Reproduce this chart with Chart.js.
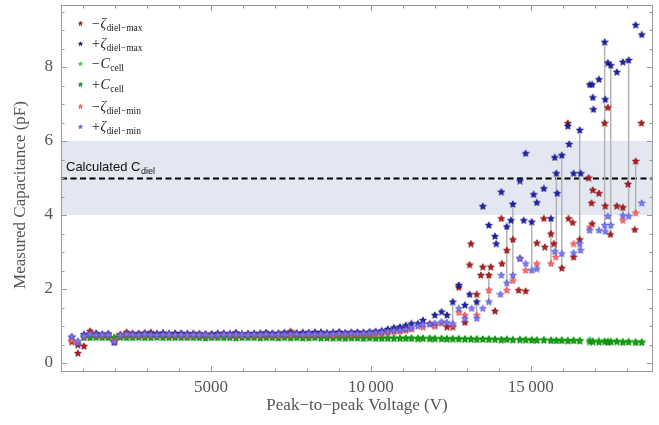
<!DOCTYPE html>
<html>
<head>
<meta charset="utf-8">
<script src="https://cdn.jsdelivr.net/npm/chart.js@4.4.1/dist/chart.umd.min.js"></script>
<style>
  html, body { margin: 0; padding: 0; background: #fff; }
  #wrap { width: 659px; height: 425px; position: relative; }
</style>
</head>
<body>
<div id="wrap"><canvas id="chart"></canvas></div>
<script>
// flat part of the sweep: one shared voltage list (V)
const lowVoltage = [
  650, 840, 1030, 1220, 1410, 1600, 1790, 1980, 2170, 2360,
  2550, 2740, 2930, 3120, 3310, 3500, 3690, 3880, 4070, 4260,
  4450, 4640, 4830, 5020, 5210, 5400, 5590, 5780, 5970, 6160,
  6350, 6540, 6730, 6920, 7110, 7300, 7490, 7680, 7870, 8060,
  8250, 8440, 8630, 8820, 9010, 9200, 9390, 9580, 9770, 9960,
  10150, 10340, 10530, 10720, 10910, 11090
];

// capacitance (pF) on the flat part, one list per series
const negMaxLow = [
  0.58, 0.27, 0.46, 0.87, 0.80, 0.77, 0.76, 0.60, 0.78, 0.84,
  0.79, 0.80, 0.78, 0.83, 0.79, 0.80, 0.78, 0.81, 0.79, 0.78,
  0.80, 0.77, 0.79, 0.78, 0.76, 0.80, 0.77, 0.82, 0.78, 0.79,
  0.77, 0.80, 0.82, 0.78, 0.80, 0.79, 0.86, 0.81, 0.80, 0.82,
  0.79, 0.83, 0.80, 0.81, 0.84, 0.80, 0.82, 0.81, 0.82, 0.80,
  0.83, 0.84, 0.86, 0.88, 0.92, 0.95
];
const posMaxLow = [
  0.70, 0.50, 0.78, 0.80, 0.80, 0.78, 0.80, 0.56, 0.74, 0.78,
  0.80, 0.79, 0.82, 0.80, 0.80, 0.82, 0.80, 0.79, 0.81, 0.80,
  0.79, 0.80, 0.78, 0.79, 0.81, 0.80, 0.80, 0.82, 0.79, 0.80,
  0.81, 0.80, 0.82, 0.81, 0.80, 0.83, 0.82, 0.81, 0.83, 0.82,
  0.84, 0.83, 0.82, 0.83, 0.84, 0.82, 0.83, 0.84, 0.83, 0.85,
  0.86, 0.88, 0.92, 0.96, 0.98, 1.02
];
const negCellLow = [
  null, null, 0.70, 0.70, 0.71, 0.70, 0.70, 0.70, 0.71, 0.70,
  0.70, 0.71, 0.70, 0.70, 0.71, 0.70, 0.70, 0.70, 0.71, 0.70,
  0.70, 0.70, 0.69, 0.70, 0.70, 0.70, 0.70, 0.69, 0.70, 0.70,
  0.70, 0.69, 0.70, 0.70, 0.69, 0.70, 0.69, 0.70, 0.69, 0.69,
  0.70, 0.69, 0.69, 0.69, 0.69, 0.68, 0.69, 0.69, 0.68, 0.69,
  0.68, 0.68, 0.68, 0.68, 0.68, 0.68
];
const posCellLow = [
  null, null, 0.69, 0.69, 0.70, 0.69, 0.69, 0.69, 0.70, 0.69,
  0.69, 0.70, 0.69, 0.69, 0.70, 0.69, 0.69, 0.69, 0.69, 0.69,
  0.69, 0.69, 0.68, 0.69, 0.69, 0.69, 0.69, 0.68, 0.69, 0.69,
  0.69, 0.68, 0.69, 0.69, 0.68, 0.69, 0.68, 0.69, 0.68, 0.68,
  0.69, 0.68, 0.68, 0.68, 0.68, 0.67, 0.68, 0.68, 0.67, 0.68,
  0.67, 0.67, 0.67, 0.67, 0.67, 0.67
];
const negMinLow = [
  0.62, 0.55, 0.72, 0.80, 0.76, 0.75, 0.76, 0.62, 0.74, 0.78,
  0.76, 0.75, 0.77, 0.76, 0.75, 0.77, 0.76, 0.75, 0.76, 0.74,
  0.76, 0.75, 0.76, 0.74, 0.75, 0.78, 0.75, 0.76, 0.75, 0.77,
  0.76, 0.75, 0.77, 0.76, 0.75, 0.77, 0.76, 0.78, 0.76, 0.77,
  0.76, 0.78, 0.77, 0.76, 0.78, 0.77, 0.78, 0.77, 0.79, 0.78,
  0.79, 0.80, 0.82, 0.85, 0.86, 0.88
];
const posMinLow = [
  0.72, 0.60, 0.74, 0.78, 0.77, 0.78, 0.77, 0.58, 0.76, 0.79,
  0.78, 0.77, 0.79, 0.78, 0.77, 0.78, 0.79, 0.77, 0.78, 0.77,
  0.78, 0.77, 0.78, 0.76, 0.77, 0.78, 0.77, 0.79, 0.78, 0.77,
  0.79, 0.78, 0.79, 0.78, 0.79, 0.78, 0.80, 0.79, 0.78, 0.80,
  0.79, 0.80, 0.79, 0.80, 0.81, 0.80, 0.81, 0.80, 0.81, 0.82,
  0.83, 0.84, 0.86, 0.88, 0.90, 0.92
];

// rising part: each series has its own voltages (V) and values (pF)
const negMaxHighV = [11840, 12000, 12380, 12560, 12750, 12940, 13090, 13130, 13310, 13440,
  13500, 13690, 13750, 13880, 14080, 14100, 14250, 14440, 14620, 14660, 14840, 15190, 15410,
  15440, 15630, 15720, 15970, 16160, 16180, 16310, 16340, 16530, 16810, 16900, 16920, 16940,
  17130, 17310, 17330, 17410, 17490, 17690, 17880, 18040, 18250, 18280, 18460];
const negMaxHigh = [1.07, 1.03, 0.98, 0.98, 2.05, 1.10, 2.66, 3.23, 1.86, 2.38,
  2.60, 2.38, 2.60, 1.41, 3.91, 2.69, 3.05, 3.34, 1.97, 2.83, 1.95, 3.25, 3.91,
  3.14, 3.50, 3.23, 2.57, 6.49, 3.91, 3.80, 2.87, 3.34, 5.01, 4.33, 3.77, 4.68,
  4.59, 6.49, 4.25, 6.91, 3.48, 4.25, 4.21, 4.84, 3.61, 5.46, 6.49];

const posMaxHighV = [11270, 11470, 11630, 12000, 12210, 12380, 12560, 12750, 12940, 13090,
  13310, 13500, 13690, 13880, 13920, 14080, 14250, 14380, 14440, 14660, 14780, 14840, 15030,
  15090, 15190, 15410, 15630, 15750, 15800, 15830, 15970, 16160, 16200, 16340, 16530, 16560,
  16840, 16920, 16940, 16960, 17130, 17310, 17330, 17410, 17500, 17690, 17880, 18060, 18280, 18470];
const posMaxHigh = [1.07, 1.07, 1.16, 1.30, 1.39, 1.30, 1.66, 2.11, 1.57, 1.86,
  1.66, 4.24, 3.73, 3.43, 3.23, 4.63, 3.69, 3.86, 4.30, 4.93, 3.86, 5.67, 3.82,
  4.56, 4.34, 4.72, 3.91, 5.56, 5.13, 4.59, 5.62, 6.41, 5.92, 5.13, 6.30, 5.13,
  7.53, 7.53, 7.18, 6.86, 7.67, 8.68, 7.13, 8.12, 8.05, 7.87, 8.14, 8.19, 9.14, 8.88];

const cellHighV = [11270, 11470, 11630, 11840, 12000, 12210, 12380, 12560, 12750, 12940,
  13130, 13310, 13500, 13690, 13880, 14080, 14250, 14440, 14660, 14840, 15030, 15190, 15410,
  15630, 15800, 15970, 16160, 16340, 16530, 16840, 16940, 17130, 17310, 17410, 17500, 17690,
  17880, 18060, 18280, 18470];
const negCellHigh = [0.68, 0.68, 0.67, 0.68, 0.67, 0.67, 0.67, 0.66, 0.67, 0.66,
  0.66, 0.66, 0.65, 0.66, 0.65, 0.65, 0.65, 0.64, 0.65, 0.64, 0.64, 0.63, 0.64,
  0.63, 0.62, 0.63, 0.62, 0.62, 0.62, 0.63, 0.60, 0.61, 0.60, 0.59, 0.60, 0.60,
  0.59, 0.59, 0.58, 0.58];
const posCellHigh = [0.67, 0.66, 0.67, 0.66, 0.66, 0.66, 0.65, 0.66, 0.65, 0.65,
  0.65, 0.64, 0.65, 0.64, 0.64, 0.63, 0.64, 0.63, 0.63, 0.63, 0.62, 0.62, 0.62,
  0.61, 0.61, 0.61, 0.60, 0.61, 0.60, 0.58, 0.58, 0.57, 0.58, 0.57, 0.57, 0.58,
  0.56, 0.57, 0.56, 0.56];

const negMinHighV = [11270, 11630, 12000, 12210, 12560, 12750, 12940, 13310, 13690, 14250,
  14440, 14840, 15190, 15630, 15780, 16340, 16840, 17880, 18280];
const negMinHigh = [0.92, 0.97, 1.00, 1.08, 1.02, 1.37, 1.30, 1.30, 1.97, 1.97,
  2.23, 2.51, 2.69, 2.69, 2.87, 3.23, 3.67, 3.86, 4.06];

const posMinHighV = [11270, 11470, 11630, 11840, 12000, 12210, 12380, 12560, 12750, 12940,
  13150, 13310, 13500, 13690, 14050, 14080, 14250, 14440, 14660, 14840, 15030, 15190, 15750,
  15970, 16340, 16530, 16560, 16840, 17130, 17310, 17330, 17410, 17500, 17880, 18060, 18470];
const posMinHigh = [0.95, 1.00, 1.05, 1.05, 1.08, 1.12, 1.10, 1.07, 1.48, 1.20,
  1.48, 1.21, 1.48, 1.66, 1.86, 2.38, 2.17, 2.38, 2.83, 2.69, 2.51, 2.55, 3.02,
  2.96, 2.98, 3.23, 3.05, 3.59, 3.59, 3.73, 3.56, 3.97, 3.73, 3.99, 3.97, 4.33];

// grey connectors: voltage, upper value, lower value
const linkV = [12560, 13310, 13690, 14250, 14440, 15030, 15630, 15800, 15970, 16530, 17310, 17500, 17880, 18060, 18280];
const linkTop = [1.66, 1.66, 2.38, 3.69, 4.30, 3.82, 3.91, 5.13, 5.62, 6.30, 8.68, 8.05, 4.21, 8.19, 5.46];
const linkBottom = [1.07, 1.21, 1.66, 1.97, 2.23, 2.51, 2.69, 2.87, 2.57, 3.05, 3.56, 3.48, 3.99, 3.97, 4.06];

const cDiel = 5;
const cDielBand = [4, 6];
const xTickValues = [5000, 10000, 15000];
const yTickValues = [0, 2, 4, 6, 8];

function points(lowY, highV, highY) {
  const pts = [];
  lowVoltage.forEach((v, i) => {
    if (lowY[i] != null) pts.push({ x: v, y: lowY[i] });
  });
  highV.forEach((v, i) => pts.push({ x: v, y: highY[i] }));
  return pts;
}

function starImage(fill, stroke, size) {
  const c = document.createElement('canvas');
  c.width = c.height = size;
  const g = c.getContext('2d');
  const r = size / 2 - 0.4, ri = r * 0.45, cx = size / 2, cy = size / 2 + 0.4;
  g.beginPath();
  for (let i = 0; i < 10; i++) {
    const a = -Math.PI / 2 + i * Math.PI / 5;
    const rr = i % 2 ? ri : r;
    g.lineTo(cx + rr * Math.cos(a), cy + rr * Math.sin(a));
  }
  g.closePath();
  g.fillStyle = fill;
  g.fill();
  g.strokeStyle = stroke;
  g.lineWidth = 0.7;
  g.stroke();
  return c;
}

const series = [
  { key: 'negMax', fill: '#b81c1c', stroke: '#7a0a0a', data: points(negMaxLow, negMaxHighV, negMaxHigh) },
  { key: 'posMax', fill: '#1e22b0', stroke: '#0a0c70', data: points(posMaxLow, posMaxHighV, posMaxHigh) },
  { key: 'negCell', fill: '#3cf03c', stroke: '#22c022', data: points(negCellLow, cellHighV, negCellHigh) },
  { key: 'posCell', fill: '#16a516', stroke: '#0b730b', data: points(posCellLow, cellHighV, posCellHigh) },
  { key: 'negMin', fill: '#ff6a6a', stroke: '#d84848', data: points(negMinLow, negMinHighV, negMinHigh) },
  { key: 'posMin', fill: '#7c7cf8', stroke: '#4f4fd0', data: points(posMinLow, posMinHighV, posMinHigh) }
];

// legend rows: sign, symbol, subscript
const legendRows = [
  ['\u2212', '\u03b6', 'diel\u2212max'],
  ['+', '\u03b6', 'diel\u2212max'],
  ['\u2212', 'C', 'cell'],
  ['+', 'C', 'cell'],
  ['\u2212', '\u03b6', 'diel\u2212min'],
  ['+', '\u03b6', 'diel\u2212min']
];

const linkData = [];
linkV.forEach((v, i) => {
  linkData.push({ x: v, y: linkTop[i] }, { x: v, y: linkBottom[i] }, { x: v, y: null });
});

const SERIF = '"Liberation Serif", "DejaVu Serif", serif';
const SANS = '"Liberation Sans", Arial, sans-serif';

// band, dashed reference line and its label (behind the stars)
const backdrop = {
  id: 'backdrop',
  beforeDatasetsDraw(chart) {
    const { ctx, chartArea: a, scales: { y } } = chart;
    ctx.save();
    const yTop = y.getPixelForValue(cDielBand[1]);
    const yBot = y.getPixelForValue(cDielBand[0]);
    ctx.fillStyle = '#e3e7f1';
    ctx.fillRect(a.left, yTop, a.right - a.left, yBot - yTop);
    const yc = Math.round(y.getPixelForValue(cDiel)) + 0.5;
    ctx.strokeStyle = '#000';
    ctx.lineWidth = 1.8;
    ctx.setLineDash([6, 3.5]);
    ctx.beginPath();
    ctx.moveTo(a.left, yc);
    ctx.lineTo(a.right, yc);
    ctx.stroke();
    ctx.setLineDash([]);
    ctx.fillStyle = '#111';
    ctx.textBaseline = 'alphabetic';
    ctx.font = '13px ' + SANS;
    const label = 'Calculated C';
    ctx.fillText(label, a.left + 5, yc - 8);
    const w = ctx.measureText(label).width;
    ctx.font = '9px ' + SANS;
    ctx.fillText('diel', a.left + 5 + w + 0.5, yc - 4.5);
    ctx.restore();
  }
};

// Mathematica style frame with inward ticks, axis titles and legend
const frame = {
  id: 'frame',
  afterDraw(chart) {
    const { ctx, chartArea: a, scales: { x, y } } = chart;
    ctx.save();
    ctx.strokeStyle = '#9a9a9a';
    ctx.lineWidth = 1;
    ctx.strokeRect(a.left + 0.5, a.top + 0.5, a.right - a.left - 1, a.bottom - a.top - 1);
    ctx.beginPath();
    for (let v = 1000; v < x.max; v += 1000) {
      const px = Math.round(x.getPixelForValue(v)) + 0.5;
      const len = v % 5000 === 0 ? 6 : 3.5;
      ctx.moveTo(px, a.bottom); ctx.lineTo(px, a.bottom - len);
      ctx.moveTo(px, a.top); ctx.lineTo(px, a.top + len);
    }
    for (let k = 0; k * 0.5 < y.max; k++) {
      const v = k * 0.5;
      const py = Math.round(y.getPixelForValue(v)) + 0.5;
      const len = k % 4 === 0 ? 6 : 3.5;
      ctx.moveTo(a.left, py); ctx.lineTo(a.left + len, py);
      ctx.moveTo(a.right, py); ctx.lineTo(a.right - len, py);
    }
    ctx.stroke();

    // axis titles
    ctx.fillStyle = '#555';
    ctx.font = '17px ' + SERIF;
    ctx.textAlign = 'center';
    ctx.textBaseline = 'middle';
    ctx.fillText('Peak\u2212to\u2212peak Voltage (V)', (a.left + a.right) / 2, 406);
    ctx.save();
    ctx.translate(21, 195);
    ctx.rotate(-Math.PI / 2);
    ctx.fillText('Measured Capacitance (pF)', 0, 0);
    ctx.restore();

    // legend
    const rowsY = [23, 43.5, 63.5, 84, 106, 126.5];
    ctx.textAlign = 'left';
    ctx.textBaseline = 'alphabetic';
    legendRows.forEach((row, i) => {
      const s = series[i];
      ctx.drawImage(s.img4, 80.5 - 2.5, rowsY[i] - 2.5);
      let tx = 92;
      const base = rowsY[i] + 4.5;
      ctx.fillStyle = '#222';
      ctx.font = '14px ' + SERIF;
      ctx.fillText(row[0], tx, base);
      tx += ctx.measureText(row[0]).width + 0.5;
      ctx.font = 'italic 14px ' + SERIF;
      ctx.fillText(row[1], tx, base);
      tx += ctx.measureText(row[1]).width + 0.5;
      ctx.font = '9.5px ' + SERIF;
      ctx.fillText(row[2], tx, base + 3);
    });
    ctx.restore();
  }
};

series.forEach(s => {
  s.img = starImage(s.fill, s.stroke, 8);
  s.img4 = starImage(s.fill, s.stroke, 5);
});

const datasets = series.map((s, i) => ({
  label: s.key,
  data: s.data,
  pointStyle: s.img,
  pointRadius: 3,
  showLine: false,
  order: 6 - i
}));
datasets.push({
  label: 'links',
  data: linkData,
  showLine: true,
  spanGaps: false,
  borderColor: '#b3b3b3',
  borderWidth: 1.5,
  pointRadius: 0,
  order: 10
});

const tickFont = { family: SERIF, size: 17 };

new Chart(document.getElementById('chart'), {
  type: 'scatter',
  data: { datasets },
  options: {
    responsive: true,
    maintainAspectRatio: false,
    animation: false,
    events: [],
    layout: { padding: { top: 5, right: 6, left: 0, bottom: 0 } },
    plugins: { legend: { display: false }, tooltip: { enabled: false } },
    scales: {
      x: {
        type: 'linear',
        min: 312,
        max: 18822,
        grid: { display: false, drawTicks: false },
        border: { display: false },
        ticks: {
          font: tickFont,
          color: '#555',
          padding: 5,
          maxRotation: 0,
          callback: v => v >= 10000 ? String(v).slice(0, -3) + '\u2009' + String(v).slice(-3) : String(v)
        },
        afterBuildTicks: s => { s.ticks = xTickValues.map(v => ({ value: v })); },
        afterFit: s => { s.height = 53; s.paddingLeft = 0; s.paddingRight = 0; }
      },
      y: {
        type: 'linear',
        min: -0.243,
        max: 9.676,
        grid: { display: false, drawTicks: false },
        border: { display: false },
        ticks: { font: tickFont, color: '#555', padding: 8 },
        afterBuildTicks: s => { s.ticks = yTickValues.map(v => ({ value: v })); },
        afterFit: s => { s.width = 61; s.paddingTop = 0; s.paddingBottom = 0; }
      }
    }
  },
  plugins: [backdrop, frame]
});
</script>
</body>
</html>
